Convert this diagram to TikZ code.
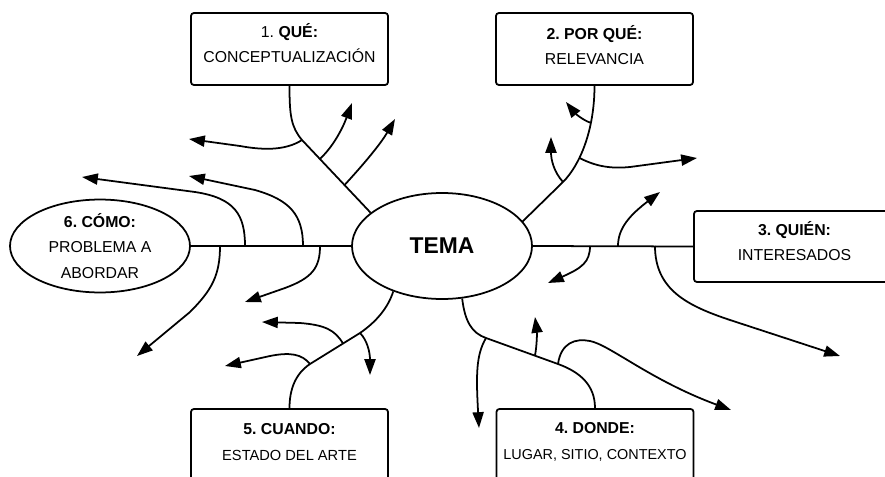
\documentclass[tikz,border=0pt]{standalone}
\usepackage{fontspec}
\setmainfont{Liberation Sans}
\usetikzlibrary{arrows.meta,shapes.geometric}
\frenchspacing

\begin{document}
\begin{tikzpicture}[x=0.03cm, y=-0.03cm, line width=1.5pt,
  box/.style={draw, rounded corners=2.5pt, minimum width=5.91cm, minimum height=2.16cm, inner sep=0pt},
  oval/.style={draw, ellipse, inner sep=0pt, minimum width=5.4cm, align=center},
  txt/.style={align=center, inner sep=0pt, font=\fontsize{13.5}{22}\selectfont},
  arr/.style={-{Triangle[length=13.5pt, width=9.5pt]}}]
\useasboundingbox (0,0) rectangle (885,477);

% Boxes
\node[box] (que) at (289.5,49) {};
\node[txt] (que-t) at (289.5,43) {1. \textbf{QUÉ:}\\CONCEPTUALIZACIÓN};
\node[box] (porque) at (594.5,49) {};
\node[txt] (porque-t) at (594.5,45) {\textbf{2. POR QUÉ:}\\RELEVANCIA};
\node[box, minimum width=6.03cm, minimum height=2.13cm] (quien) at (794.5,246.5) {};
\node[txt] (quien-t) at (794.5,241) {\textbf{3. QUIÉN:}\\INTERESADOS};
\node[box] (donde) at (595,445) {};
\node[txt] (donde-t) at (595,442) {\textbf{4. DONDE:}\\{\fontsize{12.3}{22}\selectfont LUGAR, SITIO, CONTEXTO}};
\node[box] (cuando) at (289.5,445) {};
\node[txt] (cuando-t) at (289.5,442) {\textbf{5. CUANDO:}\\{\fontsize{12.5}{22}\selectfont ESTADO DEL ARTE}};

% Ovals
\node[oval, minimum height=3.18cm, font=\fontsize{19.5}{22}\selectfont\bfseries] (tema) at (442,246) {TEMA};
\node[oval, minimum height=2.73cm, font=\fontsize{13.5}{22}\selectfont] (como) at (100,246) {\textbf{6. CÓMO:}\\PROBLEMA A\\ABORDAR};

% Horizontal axis
\draw (como.east) -- (tema.west);
\draw (tema.east) -- (quien.west);
\coordinate (l1) at (245,246);
\coordinate (l2) at (303,246);
\coordinate (l3) at (220,246);
\coordinate (l4) at (320,246);
\coordinate (r1) at (618,246);
\coordinate (r2) at (590,246);
\coordinate (r3) at (655,246);

% 1. Que
\draw (que.south) .. controls (289.5,115) and (291,127) .. (302,140) coordinate (q1) -- (tema.155) coordinate[pos=0.26] (q2) coordinate[pos=0.62] (q3);
\draw[arr] (q1) .. controls (285,151) and (262,150) .. (240,146) -- (189,139);
\draw[arr] (q2) .. controls (332,148) and (342,130) .. (352,103);
\draw[arr] (q3) .. controls (362,166) and (380,145) .. (395,119);

% 2. Por que
\draw (porque.south) .. controls (594.5,130) and (580,165) .. (563,182) coordinate[pos=0.3] (p1) coordinate[pos=0.65] (p3) coordinate (p2) -- (tema.17);
\draw[arr] (p1) .. controls (582,120) and (574,112) .. (566,102);
\draw[arr] (p2) .. controls (554,172) and (551,160) .. (551,137);
\draw[arr] (p3) .. controls (595,166) and (610,169) .. (630,167) -- (697,158);

% 3. Quien
\draw[arr] (r1) .. controls (618,228) and (630,215) .. (660,192);
\draw[arr] (r2) .. controls (590,262) and (582,268) .. (548,283);
\draw[arr] (r3) .. controls (655,290) and (688,306) .. (730,320) -- (840,356);

% 4. Donde
\draw (tema.291) .. controls (465,322) and (472,333) .. (486,338) coordinate (s1) -- (558,364) coordinate[pos=0.68] (s2) coordinate (s3) .. controls (580,372) and (595,385) .. (donde.north);
\draw[arr] (s1) .. controls (476,355) and (476,375) .. (479,428);
\draw[arr] (s2) .. controls (537,345) and (537,332) .. (535,317);
\draw[arr] (s3) .. controls (561,343) and (575,338) .. (590,341) .. controls (610,345) and (650,380) .. (731,410);

% 5. Cuando
\draw (tema.223) .. controls (388,308) and (376,322) .. (360,333) coordinate (t2) -- (310,364) coordinate[pos=0.34] (t1) coordinate (t3) .. controls (295,374) and (289.5,390) .. (cuando.north);
\draw[arr] (t1) .. controls (335,330) and (325,325) .. (300,323) -- (262,322);
\draw[arr] (t2) .. controls (367,340) and (370,352) .. (370,375);
\draw[arr] (t3) .. controls (302,354) and (290,352) .. (270,356) -- (225,366);

% 6. Como
\draw[arr] (l1) .. controls (245,215) and (235,198) .. (195,192) -- (82,177);
\draw[arr] (l2) .. controls (303,215) and (290,200) .. (255,190) -- (189,176);
\draw[arr] (l3) .. controls (220,275) and (212,290) .. (190,312) -- (137,356);
\draw[arr] (l4) .. controls (320,268) and (312,278) .. (285,288) -- (245,302);
\end{tikzpicture}
\end{document}
